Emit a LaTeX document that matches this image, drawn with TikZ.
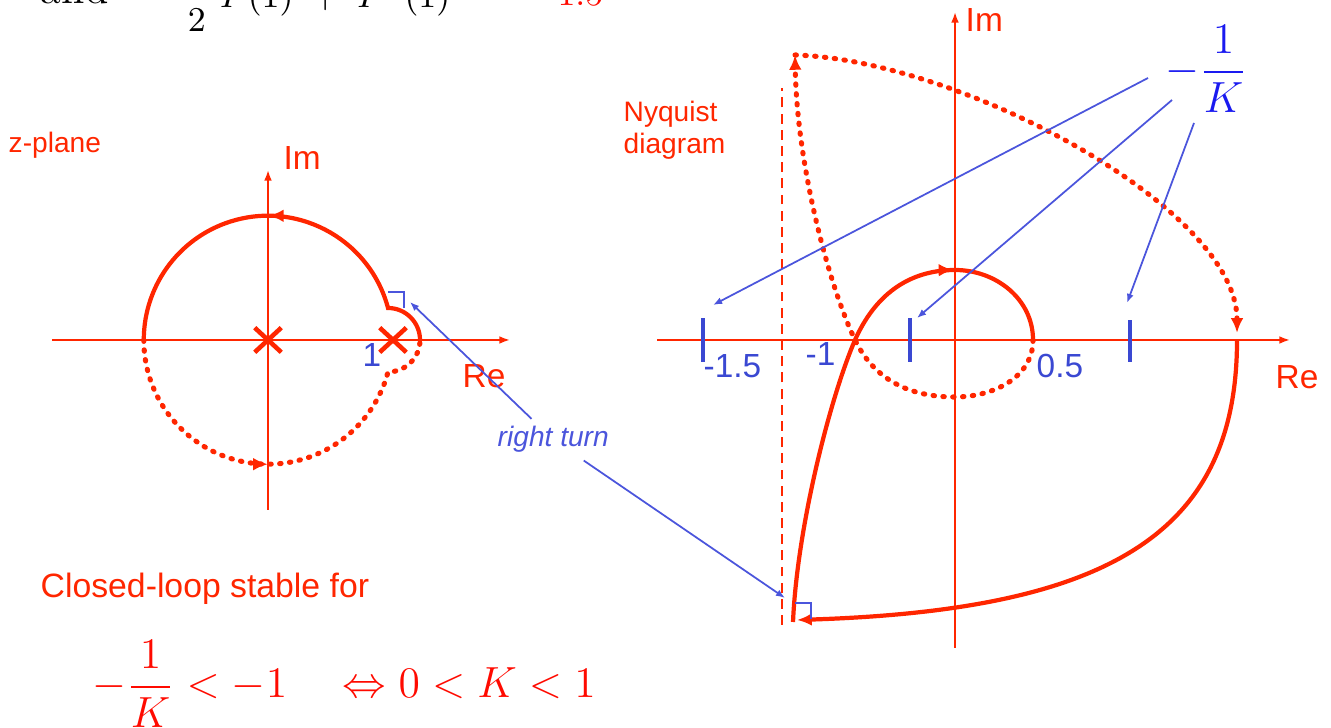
\RequirePackage{fix-cm}
\documentclass[tikz,border=0pt]{standalone}
\usepackage{fontspec}
\usetikzlibrary{arrows.meta,decorations.markings,shapes.misc}
\newfontfamily\arialfont{Liberation Sans}
\definecolor{plotred}{HTML}{FF2600}
\definecolor{mathred}{HTML}{FF0A00}
\definecolor{noteblue}{HTML}{4B55DC}
\definecolor{tickblue}{HTML}{3A48D2}
\definecolor{gainblue}{HTML}{1A1AF0}

\begin{document}
\begin{tikzpicture}[
  x=0.01cm,
  y=0.01cm,
  axislabel/.style={font=\arialfont\fontsize{9.5}{11}\selectfont, text=plotred, inner sep=0pt, anchor=base west},
  ticklabel/.style={axislabel, text=tickblue},
  caption/.style={font=\arialfont\fontsize{8}{9.1}\selectfont, text=plotred, inner sep=0pt, align=left},
  formula/.style={inner sep=0pt, anchor=base west},
  axis/.style={draw=plotred, line width=0.55pt, -{Latex[length=3pt,width=2.2pt]}},
  locus/.style={draw=plotred, line width=1.2pt},
  dotlocus/.style={draw=plotred, line width=1.45pt, line cap=round, dash pattern=on 0.4pt off 2.4pt},
  asymptote/.style={draw=plotred, line width=0.5pt, dash pattern=on 2.8pt off 1.8pt},
  tickmark/.style={draw=tickblue, line width=1.1pt},
  pole/.style={cross out, draw=plotred, line width=1.3pt, minimum width=0.22cm, minimum height=0.2cm, inner sep=0pt},
  corner/.style={draw=noteblue, line width=0.5pt},
  pointer/.style={draw=noteblue, line width=0.5pt, -{Latex[length=2.6pt,width=2pt]}},
  headend/.style={-{Latex[length=4.2pt,width=3.6pt]}},
  mid arrow/.style={postaction={decorate}, decoration={markings, mark=at position #1 with {\arrow{Latex[length=4.2pt,width=3.6pt]}}}}
]
\useasboundingbox (0,0) rectangle (1331,728);

% Cut-off line at the top
\node[formula, font=\fontsize{12.2}{14}\selectfont] (andword) at (40,724) {and};
\node[formula, font=\fontsize{9.9}{12}\selectfont] (moment) at (183,720) {$\displaystyle \frac{1}{2}\;P(1)\;+\;P''(1)$};
\node[formula, anchor=base east, text=mathred, font=\fontsize{9.9}{12}\selectfont] (value) at (604,722) {$-1.5$};

% z-plane contour
\node[caption, anchor=base west] (zplane) at (8,575) {z-plane};
\draw[axis] (52,388) -- (510,388);
\draw[axis] (268,218) -- (268,558);
\node[axislabel] (zim) at (283,558) {Im};
\node[axislabel] (zre) at (462,340) {Re};
\node[ticklabel] (zone) at (362,361) {1};

\draw[locus, mid arrow=0.52] (420,388) arc[start angle=0, end angle=90, radius=32]
  arc[start angle=14.9, end angle=180, radius=124.2];
\draw[dotlocus, mid arrow=0.478] (143.8,388) arc[start angle=180, end angle=345.1, radius=124.2]
  arc[start angle=270, end angle=360, radius=32];

\node[pole] (p0) at (268,388) {};
\node[pole] (p1) at (393,388) {};
\draw[corner] (388,436) -- (404,436) -- (404,420);

% Nyquist diagram
\node[caption, anchor=north west] (nyq) at (623,628) {Nyquist\\diagram};
\draw[axis] (657,388) -- (1290,388);
\draw[axis] (955,80) -- (955,716);
\node[axislabel] (nim) at (965,696) {Im};
\node[axislabel] (nre) at (1275,339) {Re};
\draw[asymptote] (782,103) -- (782,640);

\foreach \tx/\ty in {703/410, 910/410, 1130/408}
  \draw[tickmark] (\tx,366) -- (\tx,\ty);
\node[ticklabel] (lone5) at (703,350) {-1.5};
\node[ticklabel] (lone) at (805,362) {-1};
\node[ticklabel] (lhalf) at (1036,350) {0.5};

\draw[locus, mid arrow=0.78] (793,106) .. controls (797,200) and (830,330) .. (855,388)
  to[out=66,in=180] (955,458) to[out=0,in=90] (1033,388);
\draw[dotlocus, headend] (1033,388) to[out=-90,in=0] (955,331) to[out=180,in=-64] (855,388)
  .. controls (830,440) and (797,560) .. (795,673);
\draw[dotlocus, headend] (795,673) .. controls (960,668) and (1237,520) .. (1237,395);
\draw[locus, headend] (1237,388) .. controls (1237,195) and (1110,118) .. (797,108);
\draw[corner] (795,125) -- (811,125) -- (811,109);

% Annotations
\node[caption, text=noteblue, font=\arialfont\itshape\fontsize{8}{9.1}\selectfont, inner sep=2pt, anchor=base west] (rt) at (490,281) {right turn};
\coordinate (zturn) at (410,426);
\coordinate (nturn) at (785,130);
\draw[pointer] (rt) -- (zturn);
\draw[pointer] (rt) -- (nturn);

\node[formula, text=gainblue, font=\fontsize{12.4}{15}\selectfont] (mk) at (1165,645) {$\displaystyle -\frac{1}{K}$};
\coordinate (k1) at (1148,650);
\coordinate (k2) at (1172,628);
\coordinate (k3) at (1194,605);
\coordinate (t1) at (713,423);
\coordinate (t2) at (917,410);
\coordinate (t3) at (1127,425);
\draw[pointer] (k1) -- (t1);
\draw[pointer] (k2) -- (t2);
\draw[pointer] (k3) -- (t3);

% Stability condition
\node[axislabel, font=\arialfont\fontsize{9.6}{11}\selectfont] (stable) at (40,130) {Closed-loop stable for};
\node[formula, text=mathred, font=\fontsize{12.4}{15}\selectfont] (cond) at (92,30) {$\displaystyle -\frac{1}{K} < -1 \quad \Leftrightarrow 0 < K < 1$};

\end{tikzpicture}
\end{document}
